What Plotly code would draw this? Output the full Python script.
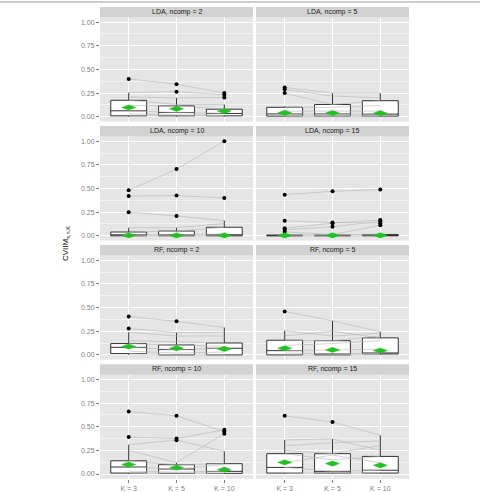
import plotly.graph_objects as go

# ---------------- data ----------------
K_LABELS = ["K = 3", "K = 5", "K = 10"]
PANEL_TITLES = ["LDA, ncomp = 2", "LDA, ncomp = 5",
                "LDA, ncomp = 10", "LDA, ncomp = 15",
                "RF, ncomp = 2", "RF, ncomp = 5",
                "RF, ncomp = 10", "RF, ncomp = 15"]
Y_TICKS = [0.0, 0.25, 0.5, 0.75, 1.0]

# box statistics per panel, each entry = [K=3, K=5, K=10]
box_lo = [[0.0, 0.0, 0.0]] * 8
box_q1 = [
    [0.010, 0.010, 0.010],
    [0.007, 0.007, 0.007],
    [0.000, 0.000, 0.000],
    [0.000, 0.000, 0.000],
    [0.014, 0.000, 0.000],
    [0.000, 0.000, 0.010],
    [0.010, 0.007, 0.007],
    [0.010, 0.010, 0.010],
]
box_median = [
    [0.063, 0.045, 0.035],
    [0.030, 0.030, 0.028],
    [0.010, 0.010, 0.005],
    [0.002, 0.002, 0.003],
    [0.080, 0.056, 0.070],
    [0.045, 0.010, 0.018],
    [0.074, 0.053, 0.028],
    [0.070, 0.028, 0.040],
]
box_q3 = [
    [0.174, 0.115, 0.080],
    [0.100, 0.130, 0.170],
    [0.040, 0.050, 0.090],
    [0.008, 0.008, 0.014],
    [0.120, 0.105, 0.126],
    [0.155, 0.150, 0.180],
    [0.140, 0.098, 0.109],
    [0.215, 0.215, 0.186],
]
box_hi = [
    [0.255, 0.200, 0.130],
    [0.110, 0.250, 0.250],
    [0.085, 0.085, 0.160],
    [0.015, 0.015, 0.025],
    [0.240, 0.235, 0.290],
    [0.255, 0.360, 0.245],
    [0.310, 0.120, 0.240],
    [0.360, 0.370, 0.410],
]
means = [
    [0.098, 0.084, 0.060],
    [0.042, 0.040, 0.038],
    [0.004, 0.004, 0.004],
    [0.004, 0.004, 0.004],
    [0.088, 0.070, 0.063],
    [0.070, 0.053, 0.046],
    [0.100, 0.067, 0.046],
    [0.123, 0.110, 0.092],
]

# individual data-set trajectories [K=3, K=5, K=10]
traj_lda2 = [[0.400, 0.345, 0.250], [0.255, 0.265, 0.233], [0.210, 0.200, 0.205],
             [0.174, 0.130, 0.130], [0.120, 0.115, 0.080], [0.063, 0.045, 0.035],
             [0.030, 0.020, 0.015], [0.010, 0.010, 0.010]]
traj_lda5 = [[0.310, 0.250, 0.250], [0.290, 0.220, 0.200], [0.250, 0.130, 0.170],
             [0.100, 0.100, 0.120], [0.060, 0.060, 0.060], [0.030, 0.030, 0.028],
             [0.010, 0.010, 0.010], [0.000, 0.000, 0.000]]
traj_lda10 = [[0.480, 0.705, 1.000], [0.420, 0.425, 0.400], [0.250, 0.210, 0.160],
              [0.085, 0.085, 0.130], [0.040, 0.050, 0.090], [0.010, 0.010, 0.020],
              [0.000, 0.000, 0.000]]
traj_lda15 = [[0.435, 0.470, 0.488], [0.158, 0.140, 0.133], [0.080, 0.133, 0.168],
              [0.063, 0.095, 0.154], [0.042, 0.012, 0.112], [0.008, 0.008, 0.014],
              [0.000, 0.000, 0.000]]
traj_rf2 = [[0.405, 0.355, 0.290], [0.280, 0.235, 0.240], [0.240, 0.200, 0.200],
            [0.150, 0.140, 0.126], [0.120, 0.105, 0.090], [0.080, 0.056, 0.070],
            [0.040, 0.020, 0.030], [0.014, 0.000, 0.000]]
traj_rf5 = [[0.460, 0.360, 0.245], [0.255, 0.200, 0.230], [0.200, 0.250, 0.180],
            [0.155, 0.150, 0.200], [0.100, 0.120, 0.150], [0.045, 0.050, 0.060],
            [0.020, 0.010, 0.018], [0.000, 0.000, 0.010]]
traj_rf10 = [[0.660, 0.615, 0.449], [0.390, 0.375, 0.467], [0.310, 0.358, 0.240],
             [0.250, 0.120, 0.425], [0.140, 0.098, 0.109], [0.074, 0.053, 0.100],
             [0.030, 0.020, 0.028], [0.010, 0.007, 0.007]]
traj_rf15 = [[0.615, 0.550, 0.410], [0.360, 0.370, 0.250], [0.300, 0.330, 0.350],
             [0.250, 0.215, 0.300], [0.215, 0.150, 0.186], [0.120, 0.200, 0.120],
             [0.070, 0.028, 0.040], [0.010, 0.010, 0.010]]
trajectories = [traj_lda2, traj_lda5, traj_lda10, traj_lda15,
                traj_rf2, traj_rf5, traj_rf10, traj_rf15]

# ---------------- layout geometry (pixels) ----------------
W, H = 480, 492
COL_X = [(100, 253), (256, 409)]
ROW_TOP = [17.5, 137.0, 256.6, 376.2]
PANEL_H = 104.5
STRIP_H = 10.5
XPOS = [0, 1, 2]
X_RANGE = [-0.6, 2.6]
Y_RANGE = [-0.05, 1.05]
# mean-diamond half sizes in pixels
DIA_HW, DIA_HH = 7.0, 2.6

FONT = "Liberation Sans, Arial, sans-serif"
fig = go.Figure()
layout = dict(
    width=W, height=H, margin=dict(l=0, r=0, t=0, b=0),
    paper_bgcolor="white", plot_bgcolor="#E5E5E5",
    showlegend=False, font=dict(family=FONT),
)
shapes = []
annotations = []

for p in range(8):
    row, col = divmod(p, 2)
    ax = "" if p == 0 else str(p + 1)
    xa, ya = "x" + ax, "y" + ax
    x0, x1 = COL_X[col]
    top = ROW_TOP[row]
    xd = [x0 / W, x1 / W]
    yd = [1 - (top + PANEL_H) / H, 1 - top / H]
    bottom_row = row == 3
    layout["xaxis" + ax] = dict(
        domain=xd, range=X_RANGE, anchor=ya,
        tickvals=XPOS, ticktext=K_LABELS, showticklabels=bottom_row,
        ticks="outside" if bottom_row else "", ticklen=3, tickcolor="#7F7F7F",
        tickfont=dict(size=7, color="#7F7F7F", family=FONT),
        showgrid=True, gridcolor="white", gridwidth=1, zeroline=False,
        showline=False, fixedrange=True,
    )
    layout["yaxis" + ax] = dict(
        domain=yd, range=Y_RANGE, anchor=xa,
        tickvals=Y_TICKS, ticktext=["%.2f" % v for v in Y_TICKS],
        showticklabels=(col == 0), ticks="outside" if col == 0 else "",
        ticklen=3, tickcolor="#7F7F7F",
        tickfont=dict(size=7, color="#7F7F7F", family=FONT),
        showgrid=True, gridcolor="white", gridwidth=1, zeroline=False,
        minor=dict(dtick=0.125, tick0=0, showgrid=True, gridcolor="#F2F2F2",
                   gridwidth=0.5, ticks=""),
        showline=False, fixedrange=True,
    )
    # strip
    shapes.append(dict(type="rect", xref="paper", yref="paper",
                       x0=xd[0], x1=xd[1], y0=yd[1], y1=yd[1] + STRIP_H / H,
                       fillcolor="#D2D2D2", line=dict(width=0), layer="below"))
    annotations.append(dict(text=PANEL_TITLES[p], xref="paper", yref="paper",
                            x=(xd[0] + xd[1]) / 2, y=yd[1] + STRIP_H / 2 / H,
                            showarrow=False, xanchor="center", yanchor="middle",
                            font=dict(size=7, color="#1A1A1A", family=FONT)))

    # box
    fig.add_trace(go.Box(
        x=XPOS, q1=box_q1[p], median=box_median[p], q3=box_q3[p],
        lowerfence=box_lo[p], upperfence=box_hi[p],
        width=0.75, whiskerwidth=0, boxpoints=False,
        fillcolor="white", line=dict(color="#333333", width=1),
        xaxis=xa, yaxis=ya, hoverinfo="skip",
    ))

    # trajectories
    lx, ly = [], []
    ox, oy = [], []
    for tr in trajectories[p]:
        lx += XPOS + [None]
        ly += tr + [None]
        for k in range(3):
            if tr[k] > box_hi[p][k] + 1e-9 or tr[k] < box_lo[p][k] - 1e-9:
                ox.append(XPOS[k])
                oy.append(tr[k])
    fig.add_trace(go.Scatter(x=lx, y=ly, mode="lines",
                             line=dict(color="#B5B5B5", width=0.6),
                             xaxis=xa, yaxis=ya, hoverinfo="skip"))
    fig.add_trace(go.Scatter(x=ox, y=oy, mode="markers",
                             marker=dict(color="black", size=4),
                             xaxis=xa, yaxis=ya, hoverinfo="skip"))

    # mean diamonds (flat), sized in pixels converted to data units
    dxu = DIA_HW * (X_RANGE[1] - X_RANGE[0]) / (x1 - x0)
    dyu = DIA_HH * (Y_RANGE[1] - Y_RANGE[0]) / PANEL_H
    dx, dy = [], []
    for k in range(3):
        cx, cy = XPOS[k], means[p][k]
        dx += [cx - dxu, cx, cx + dxu, cx, cx - dxu, None]
        dy += [cy, cy + dyu, cy, cy - dyu, cy, None]
    fig.add_trace(go.Scatter(x=dx, y=dy, mode="lines", fill="toself",
                             fillcolor="#22C022", line=dict(color="#22C022", width=0.5),
                             xaxis=xa, yaxis=ya, hoverinfo="skip"))

# y-axis title
annotations.append(dict(text="CVIIM<sub>s,n,K</sub>", xref="paper", yref="paper",
                        x=66 / W, y=1 - 245 / H, textangle=-90, showarrow=False,
                        xanchor="center", yanchor="middle",
                        font=dict(size=8, color="black", family=FONT)))
# thin top border line
shapes.append(dict(type="line", xref="paper", yref="paper", x0=0, x1=1,
                   y0=1 - 2 / H, y1=1 - 2 / H, line=dict(color="#9A9A9A", width=1)))

layout["shapes"] = shapes
layout["annotations"] = annotations
fig.update_layout(**layout)
fig.write_html("out.html")
